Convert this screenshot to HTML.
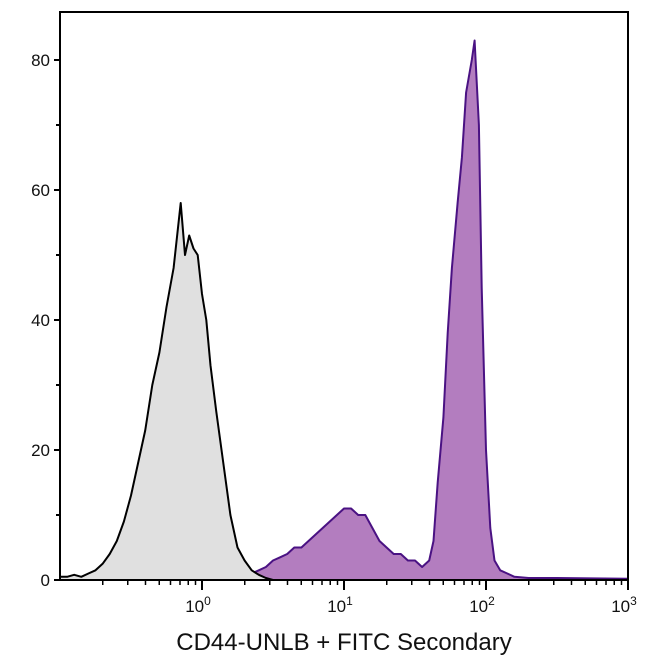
<!DOCTYPE html>
<html><head><meta charset="utf-8">
<style>
body{margin:0;background:#fff;width:650px;height:662px;overflow:hidden;font-family:"Liberation Sans",sans-serif;}
</style></head>
<body>
<svg id="chart" width="650" height="662" xmlns="http://www.w3.org/2000/svg"></svg>
<script>
const xTicks = [0,1,2,3];
const yTicks = [0,20,40,60,80];
const grayLog = [-1,-0.95,-0.9,-0.85,-0.8,-0.75,-0.7,-0.65,-0.6,-0.55,-0.5,-0.45,-0.4,-0.35,-0.3,-0.25,-0.2,-0.15,-0.12,-0.09,-0.06,-0.03,0,0.03,0.06,0.1,0.15,0.2,0.25,0.3,0.35,0.4,0.45,0.5];
const grayVal = [0.5,0.5,0.8,0.5,1,1.5,2.5,4,6,9,13,18,23,30,35,42,48,58,50,53,51,50,44,40,33,26,18,10,5,3,1.5,0.8,0.3,0];
const purpleLog = [-1,-0.5,0,0.3,0.35,0.4,0.45,0.5,0.55,0.6,0.65,0.7,0.75,0.8,0.85,0.9,0.95,1,1.05,1.1,1.15,1.2,1.25,1.3,1.35,1.4,1.45,1.5,1.55,1.6,1.63,1.66,1.7,1.73,1.76,1.8,1.83,1.86,1.9,1.92,1.95,1.97,2,2.03,2.06,2.1,2.15,2.2,2.3,2.5,3];
const purpleVal = [0.2,0.3,0.3,0.5,1,1.5,2,3,3.5,4,5,5,6,7,8,9,10,11,11,10,10,8,6,5,4,4,3,3,2,3,6,15,25,38,48,58,65,75,80,83,70,45,20,8,3,1.5,1,0.5,0.3,0.3,0.2];
const L=60,R=628,T=12,B=580;
const xs=v=>L+(v+1)/4*(R-L);
function yScale(v){return B - v*(B-60)/80;}
const svg=document.getElementById('chart');
const NS='http://www.w3.org/2000/svg';
function mk(tag,attrs){const e=document.createElementNS(NS,tag);for(const k in attrs)e.setAttribute(k,attrs[k]);svg.appendChild(e);return e;}
function area(lx,vals,fill,stroke,name){
  let d='M'+xs(lx[0])+','+B;
  for(let i=0;i<lx.length;i++){d+=' L'+xs(lx[i]).toFixed(1)+','+yScale(vals[i]).toFixed(1);}
  d+=' L'+xs(lx[lx.length-1])+','+B+' Z';
  const p=mk('path',{d:d,fill:fill,stroke:stroke,'stroke-width':2,'stroke-linejoin':'round'});
  
  
}
area(purpleLog,purpleVal,'#b37dbf','#4a1283','purple-histogram');
area(grayLog,grayVal,'#e0e0e0','#000','gray-histogram');
const fr=mk('rect',{x:L,y:T,width:R-L,height:B-T,fill:'none',stroke:'#000','stroke-width':2});


yTicks.forEach((t,i)=>{
  const y=yScale(t);
  const tk=mk('line',{x1:L-6,x2:L,y1:y,y2:y,stroke:'#000','stroke-width':2});
  
  
  const tx=mk('text',{x:L-10,y:y+6,'text-anchor':'end','font-size':17,fill:'#111'});
  tx.textContent=t;
  
  
  if(i<yTicks.length-1){const ym=yScale(t+10);const m=mk('line',{x1:L-4,x2:L,y1:ym,y2:ym,stroke:'#000','stroke-width':2});
  
  }
});
for(let d=-1;d<3;d++){for(let k=2;k<=9;k++){const x=xs(d+Math.log10(k));
  const m=mk('line',{x1:x,x2:x,y1:B,y2:B+5,stroke:'#000','stroke-width':1.5});
  
  }}
xTicks.forEach(t=>{
  const x=xs(t);
  const tk=mk('line',{x1:x,x2:x,y1:B,y2:B+10,stroke:'#000','stroke-width':2});
  
  
  const tx=mk('text',{x:x-4,y:B+32,'text-anchor':'middle','font-size':17,fill:'#111'});
  tx.innerHTML='10<tspan dy="-7" font-size="12">'+t+'</tspan>';
  
  
});
const xt=mk('text',{x:344,y:650,'text-anchor':'middle','font-size':24,fill:'#111'});
xt.textContent='CD44-UNLB + FITC Secondary';


</script>
</body></html>
